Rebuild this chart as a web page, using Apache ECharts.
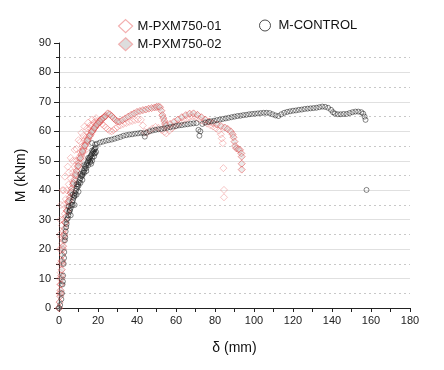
<!DOCTYPE html>
<html>
<head>
<meta charset="utf-8">
<script src="https://cdn.jsdelivr.net/npm/echarts@6/dist/echarts.min.js"></script>
<style>html,body{margin:0;padding:0;background:#fff}#c{width:444px;height:370px}</style>
</head>
<body>
<div id="c"></div>
<script>
// ---- data: [delta (mm), M (kNm)] ----
const seriesNames = ['M-PXM750-01', 'M-PXM750-02', 'M-CONTROL'];
const xTicks = [0, 20, 40, 60, 80, 100, 120, 140, 160, 180];
const yTicks = [0, 10, 20, 30, 40, 50, 60, 70, 80, 90];

const pxm01 = [
  [0,0],[0.3,5],[0.4,10],[0.5,15],[0.5,20],[0.6,25],[0.7,30],[1,35],[1.8,40],[3,44.6],[4.5,48],[6,51],[8,53.7],
  [10,57],[11.5,59.5],[13,61.6],[15,63],[17,64],[19,64.5],
  [1,20],[1.5,28],[2.5,35],[4,40],[6,44],[8,48],[10,51],[12,55],[14,58],[16,61],[18,63],
  [2,30],[3.5,37],[5,42],[7,46],[9,50],[11,53],[13,57],[15,59.5],[17,62],[19,63.5],
  [0.8,12],[1.2,16],[1.6,22],[2.2,26],[3,32],[4.5,36],[6,39],[7.5,42],[9,45],[10.5,48],[12,51],[13.5,53.5],
  [0.6,8],[1.3,24],[2.4,40],[5,46],[7,50],[9,54],[11,56.5],[12.5,58.5],[14.5,61],[16,62],
  [20,63.5],[21,63],[22,62.5],[23,62],[24,61.3],[25,60.7],[26,60.2],[27,60],[28,60.4],[29,61],[30,61.5],[31.5,62],
  [33,62.5],[34.5,62.8],[36,63.2],[37.5,63.5],[39,63.8],[40.5,64],[42,63.9],[43,62],[44,59.8],[45,59.5],[46.5,60.3],
  [48,61],[49.5,61.5],[51,61.2],[52.5,60.5],[54,59.8],[55,59.3],[56.5,60.2],[58,61],[59.5,61.8],[61,62.5],
  [62.5,63.2],[64,63.8],[65.5,64.3],[67,64.8],[68.5,65],[70,64.8],[71.5,64.3],[73,63.7],[74.5,63.1],[76,62.6],
  [77.5,62.1],[79,61.6],[80.5,61],[82,60.2],[83,59],[83.5,57.6],[84,56],[84.3,47.5],[84.6,40.1],[84.6,37.6]
];

const pxm02 = [
  [0,0],[0.6,4],[1,8],[1.4,13],[1.8,18],[2.3,23],[2.9,27],[3.6,31],[4.5,34.5],[5.5,37.5],[6.6,40.5],[7.8,43.5],
  [9,46.5],[10.2,49.3],[11.4,52],[12.6,54],[13.8,55.8],[15,57.5],[16.2,59],[17.4,60.3],[18.6,61.5],[19.8,62.6],
  [21,63.5],[22,64.2],[23,64.8],[24,65.3],
  [0.3,2],[0.8,6],[1.2,10],[1.6,15],[2,20],[2.6,25],[3.2,29],[4,33],[5,36],[6,39],[7.2,42],[8.4,45],[9.6,48],
  [10.8,50.7],[12,53],[13.2,55],[14.4,56.7],[15.6,58.3],[16.8,59.7],[18,61],[19.2,62],[20.4,63],[21.5,64],
  [0.8,5],[1.2,11],[1.6,16],[2.1,21],[2.6,24.5],[3.3,29],[4.2,33],[5.2,36.5],[6.3,39.5],[7.4,42.5],[8.6,45.5],
  [9.8,48.3],[11,51],[12.2,53.3],[13.4,55.2],[14.6,57],[15.8,58.6],[17,60],[18.2,61.2],[19.4,62.3],[20.6,63.2],
  [21.8,64],[22.8,64.6],[23.8,65.1],
  [25,66.1],[26,65.8],[27,65.2],[28,64.5],[29,63.8],[30,63.4],[31,63.3],
  [32.5,63.8],[34,64.4],[35.5,65],[37,65.6],[38.5,66.1],[40,66.6],[41.5,66.9],[43,67.2],[44.5,67.4],[46,67.7],
  [47.5,67.9],[49,68.1],[50,68.3],[51,68.4],[51.8,68.2],[52.5,67],[53,65.5],[53.5,64.5],[54,63.5],[54.4,62.5],
  [55,62],[57,62.5],[59,63.2],[61,64],[63,64.8],[65,65.5],[67,66],[69,66.1],[71,65.6],[73,64.8],[75,64],
  [77,63.3],[79,62.8],[81,62.3],[83,61.8],[85,61.3],[86.5,60.8],[88,60],[89,59],[89.5,58],[90,56.5],[90.3,55],
  [91,54.2],[92,53.9],[92.8,53.7],[93.5,52.5],[93.7,51.4],[93.7,49],[93.7,47]
];

const control = [
  [0,0],[0.6,1],[1.2,3],[1.5,5],[1.8,8],[2.1,11],[2.4,15],[2.7,19],[3,23],[3.4,26],[3.9,28.5],[4.5,30.5],
  [5.2,32.5],[6,34],[6.8,36],[7.5,37.5],[8.2,39],[9,40.5],[9.8,42],[10.6,43.5],[11.5,44.8],[12.3,46],[13.1,47.3],
  [14,48.6],[14.8,49.8],[15.6,50.8],[16.4,51.8],[17.2,52.8],[18,53.7],[18.8,54.5],
  [2,9],[2.6,17],[3.2,24],[3.7,27.5],[4.8,31.5],[5.6,33.3],[6.4,35],[7.2,36.7],[7.9,38.2],[8.6,39.8],[9.4,41.2],
  [10.2,42.7],[11,44.1],[11.9,45.4],[12.7,46.6],[13.5,48],[14.4,49.2],[15.2,50.3],[16,51.3],[16.8,52.3],[17.6,53.2],
  [18.4,54.1],
  [5,34.5],[7,38.5],[9,42],[11,45.5],[13,48.5],[15,51],[17,53.5],
  [7,35],[9,38.5],[11,42.5],[13,46],[15,48.5],[17,51],[18.5,52.5],
  [6,31.5],[8,35],[10,39.5],[12,43.5],[14,46.5],[16,49.5],[18,51.5],[19,53],
  [4,30],[5.5,33],[8,38],[10,41.5],[12,45],[14,47.5],[16,50],[18,52.5],[16.5,49],[17,50],
  [17,56],[18.5,55.5],[19.5,55.8],[21,56.2],[22.5,56.5],[24,56.8],[25.5,57],[27,57.2],[28.5,57.5],[30,57.8],[31.5,58.1],
  [33,58.5],[34.5,58.7],[36,58.9],[37.5,59],[39,59.2],[40.5,59.3],[42,59.5],[43.5,59.3],[44,58.2],[45,59.6],
  [46.5,60],[48,60.3],[49.5,60.5],[51,60.7],[52.5,60.8],[54,61],[55.5,61.2],[57,61.4],[58.5,61.6],[60,61.8],
  [61.5,62],[63,62.1],[64.5,62.3],[66,62.4],[67.5,62.6],[69,62.7],[70.5,62.8],[71.5,60.5],[72,58.5],[72.5,60],
  [73.5,62.5],[75,63],[76.5,63.2],[78,63.4],[79.5,63.6],[81,63.8],[82.5,64],[84,64.2],[85.5,64.4],[87,64.6],
  [88.5,64.8],[90,65],[91.5,65.2],[93,65.3],[94.5,65.5],[96,65.6],[97.5,65.8],[99,65.9],[100.5,66],[102,66.1],
  [103.5,66.2],[105,66.3],[106.5,66.3],[108,66.2],[109.5,65.8],[111,65.4],[112.5,65.2],[114,65.8],[115.5,66.3],
  [117,66.6],[118.5,66.8],[120,67],[121.5,67.1],[123,67.3],[124.5,67.4],[126,67.6],[127.5,67.7],[129,67.8],
  [130.5,67.9],[132,68],[133.5,68.2],[135,68.4],[136.5,68.3],[138,68],[139.5,67.3],[140.5,66.5],[141.5,66],
  [143,65.8],[144.5,65.8],[146,65.9],[147.5,65.9],[149,66.2],[150.5,66.5],[152,66.7],[153.5,66.7],[155,66.5],
  [156,66],[156.7,65],[157.2,63.9],[157.7,40.1]
];

const FONT = '"Liberation Sans", Arial, sans-serif';
const chart = echarts.init(document.getElementById('c'), null, {renderer: 'canvas'});

const style01 = {color: 'rgba(255,255,255,0)', borderColor: 'rgba(236,110,110,0.5)', borderWidth: 1};
const style02 = {color: 'rgba(205,205,205,0.5)', borderColor: 'rgba(225,55,55,0.62)', borderWidth: 1};
const styleCtl = {color: 'rgba(255,255,255,0)', borderColor: 'rgba(25,25,25,0.65)', borderWidth: 1};

chart.setOption({
  animation: false,
  backgroundColor: '#fff',
  textStyle: {fontFamily: FONT},
  legend: [
    {
      orient: 'vertical', left: 118, top: 19, padding: 0, itemGap: 4, itemWidth: 14, itemHeight: 13,
      textStyle: {fontFamily: FONT, fontSize: 13, color: '#111'},
      data: [
        {name: seriesNames[0], icon: 'diamond', itemStyle: {color: '#fff', borderColor: '#f09a9a', borderWidth: 1.2}},
        {name: seriesNames[1], icon: 'diamond', itemStyle: {color: '#d4d4d4', borderColor: '#f0a0a0', borderWidth: 1.2}}
      ]
    },
    {
      orient: 'vertical', left: 259, top: 19, padding: 0, itemWidth: 11, itemHeight: 11,
      textStyle: {fontFamily: FONT, fontSize: 13, color: '#111', padding: [0, 0, 0, 3]},
      data: [
        {name: seriesNames[2], icon: 'circle', itemStyle: {color: '#fff', borderColor: '#222', borderWidth: 1}}
      ]
    }
  ],
  grid: {left: 59, right: 34, top: 43, bottom: 62},
  xAxis: {
    type: 'value', min: xTicks[0], max: xTicks[xTicks.length - 1], interval: 20,
    name: 'δ (mm)', nameLocation: 'middle', nameGap: 33,
    nameTextStyle: {fontFamily: FONT, fontSize: 14, color: '#111'},
    axisLine: {show: true, onZero: false, lineStyle: {color: '#222', width: 1}},
    axisTick: {show: true, inside: false, length: 4, lineStyle: {color: '#222'}},
    minorTick: {show: true, splitNumber: 2, length: 4, lineStyle: {color: '#222'}},
    axisLabel: {fontFamily: FONT, fontSize: 11, color: '#222', margin: 7},
    splitLine: {show: false}
  },
  yAxis: {
    type: 'value', min: yTicks[0], max: yTicks[yTicks.length - 1], interval: 10,
    name: 'M (kNm)', nameLocation: 'middle', nameGap: 31,
    nameTextStyle: {fontFamily: FONT, fontSize: 14, color: '#111'},
    axisLine: {show: true, onZero: false, lineStyle: {color: '#222', width: 1}},
    axisTick: {show: true, inside: false, length: 5, lineStyle: {color: '#222'}},
    minorTick: {show: true, splitNumber: 2, length: 3, lineStyle: {color: '#222'}},
    axisLabel: {fontFamily: FONT, fontSize: 11, color: '#222', margin: 8},
    splitLine: {show: true, showMaxLine: false, lineStyle: {color: '#e0e0e0', width: 1}},
    minorSplitLine: {show: true, lineStyle: {color: '#c8c8c8', type: [2, 3], width: 1}}
  },
  series: [
    {name: seriesNames[0], type: 'scatter', data: pxm01, symbol: 'diamond', symbolSize: 7, itemStyle: style01, z: 2},
    {name: seriesNames[1], type: 'scatter', data: pxm02, symbol: 'diamond', symbolSize: 7, itemStyle: style02, z: 3},
    {name: seriesNames[2], type: 'scatter', data: control, symbol: 'circle', symbolSize: 5, itemStyle: styleCtl, z: 4}
  ]
});
</script>
</body>
</html>
